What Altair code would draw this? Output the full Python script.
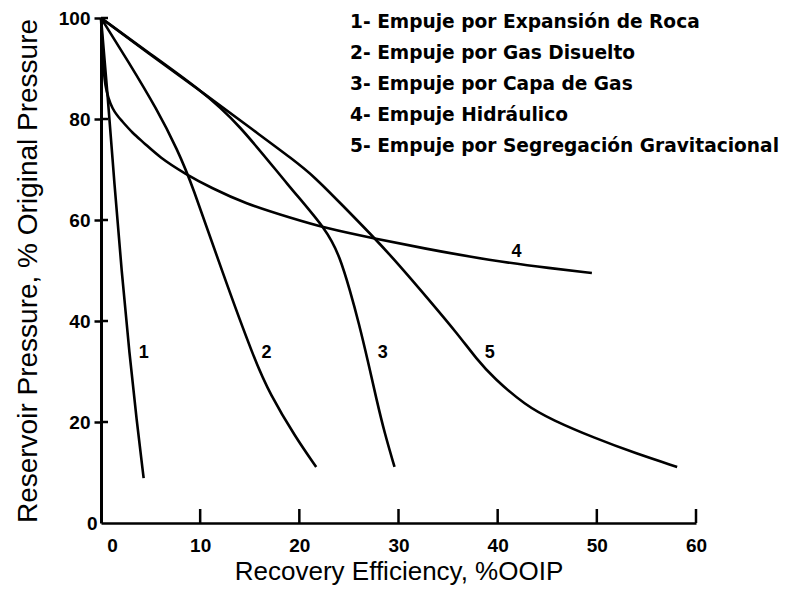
import altair as alt
import pandas as pd

# ---- data ----
c1_x = [0, 0.66, 1.36, 2.07, 2.88, 3.59, 4.3]
c1_y = [100, 85.1, 66.9, 50.0, 33.2, 20.4, 8.9]
c2_x = [0, 2.68, 5.71, 7.73, 9.14, 12.17, 15.5, 17.0, 19.6, 21.7]
c2_y = [100, 91.6, 81.7, 73.8, 67.3, 50.0, 32.2, 25.7, 17.0, 11.1]
c3_x = [0, 4.9, 9.95, 13.8, 19.0, 22.8, 24.1, 25.1, 26.0, 26.9, 27.8, 28.6, 29.6]
c3_y = [100, 93.0, 85.9, 79.3, 66.5, 58.0, 52.6, 46.1, 39.6, 32.2, 24.3, 17.8, 11.1]
c4_x = [0, 0.15, 0.35, 1.16, 2.07, 3.18, 4.39, 5.91, 8.43, 11.16, 14.5, 19.0, 22.8, 27.4, 32.5, 39.2, 45.5, 49.5]
c4_y = [100, 93.6, 86.3, 81.7, 79.7, 77.2, 75.2, 72.4, 69.2, 66.3, 63.3, 60.5, 58.3, 56.4, 54.4, 52.0, 50.4, 49.5]
c5_x = [0, 4.9, 9.95, 15.0, 19.5, 21.6, 24.1, 27.6, 30.2, 33.2, 35.9, 37.9, 39.6, 42.8, 45.5, 49.8, 53.9, 58.1]
c5_y = [100, 92.8, 85.7, 78.3, 71.8, 68.4, 63.4, 56.4, 50.8, 43.9, 37.6, 32.4, 28.7, 23.3, 20.4, 16.8, 13.8, 11.1]

label_text = ["1", "2", "3", "4", "5"]
label_x = [4.3, 16.7, 28.4, 41.9, 39.2]
label_y = [33.6, 33.6, 33.6, 53.6, 33.6]

legend_lines = [
    "1- Empuje por Expansión de Roca",
    "2- Empuje por Gas Disuelto",
    "3- Empuje por Capa de Gas",
    "4- Empuje Hidráulico",
    "5- Empuje por Segregación Gravitacional",
]

x_ticks = [0, 10, 20, 30, 40, 50, 60]
y_ticks = [0, 20, 40, 60, 80, 100]

x_title = "Recovery Efficiency, %OOIP"
y_title = "Reservoir Pressure, % Original Pressure"

# ---- tables ----
rows = []
for cid, xs, ys in [(1, c1_x, c1_y), (2, c2_x, c2_y), (3, c3_x, c3_y), (4, c4_x, c4_y), (5, c5_x, c5_y)]:
    for i, (a, b) in enumerate(zip(xs, ys)):
        rows.append({"x": a, "y": b, "curve": cid, "order": i})
curves = pd.DataFrame(rows)
labels = pd.DataFrame({"x": label_x, "y": label_y, "t": label_text})
xt = pd.DataFrame({"x": [v for v in x_ticks if v != 0]})
yt = pd.DataFrame({"y": [v for v in y_ticks if v != 0]})

FONT = "Liberation Sans"
W, H = 595, 505

X = alt.X(
    "x:Q",
    scale=alt.Scale(domain=[0, 60], nice=False, zero=False),
    axis=alt.Axis(
        values=x_ticks, title=x_title, grid=False, ticks=False,
        domainColor="black", domainWidth=2.5, labelFlush=False,
        labelFont=FONT, labelFontSize=19, labelFontWeight="bold", labelColor="black",
        labelPadding=13,
        labelOffset={"condition": {"test": "datum.value == 0", "value": 11}, "value": 0},
        titleFont=FONT, titleFontSize=26, titleFontWeight="normal", titleColor="black",
        titlePadding=3,
    ),
)
Y = alt.Y(
    "y:Q",
    scale=alt.Scale(domain=[0, 100], nice=False, zero=False),
    axis=alt.Axis(
        values=y_ticks, title=y_title, grid=False,
        domainColor="black", domainWidth=3, labelFlush=False,
        tickColor="black", tickWidth=2.5,
        tickSize={"condition": {"test": "datum.value == 0", "value": 0}, "value": 7},
        labelFont=FONT, labelFontSize=19, labelFontWeight="bold", labelColor="black",
        labelPadding=4,
        titleFont=FONT, titleFontSize=28, titleFontWeight="normal", titleColor="black",
        titlePadding=16,
    ),
)

lines = alt.Chart(curves).mark_line(
    color="black", strokeWidth=2.6, interpolate="basis"
).encode(x=X, y=Y, detail="curve:N", order="order:Q")

xticks_in = alt.Chart(xt).mark_rule(color="black", strokeWidth=2.5).encode(
    x=X, y=alt.value(H), y2=alt.value(H - 14)
)
yticks_in = alt.Chart(yt).mark_rule(color="black", strokeWidth=2.5).encode(
    y=Y, x=alt.value(0), x2=alt.value(7)
)

curve_labels = alt.Chart(labels).mark_text(
    font=FONT, fontSize=18, fontWeight="bold", color="black", align="center", baseline="middle"
).encode(x=X, y=Y, text="t:N")

legend = alt.Chart(alt.Data(values=[{}])).mark_text(
    font="DejaVu Sans", fontSize=18.6, fontWeight="bold", color="black",
    align="left", baseline="alphabetic", lineHeight=31,
).encode(x=alt.value(249), y=alt.value(10), text=alt.value(legend_lines))

chart = alt.layer(lines, xticks_in, yticks_in, curve_labels, legend).properties(
    width=W, height=H,
    padding={"left": 93, "top": 10, "right": 86, "bottom": 64},
    autosize=alt.AutoSizeParams(type="none"),
    background="white",
).configure_view(stroke=None)

chart.save("out.html", embed_options={"renderer": "svg", "actions": False})
